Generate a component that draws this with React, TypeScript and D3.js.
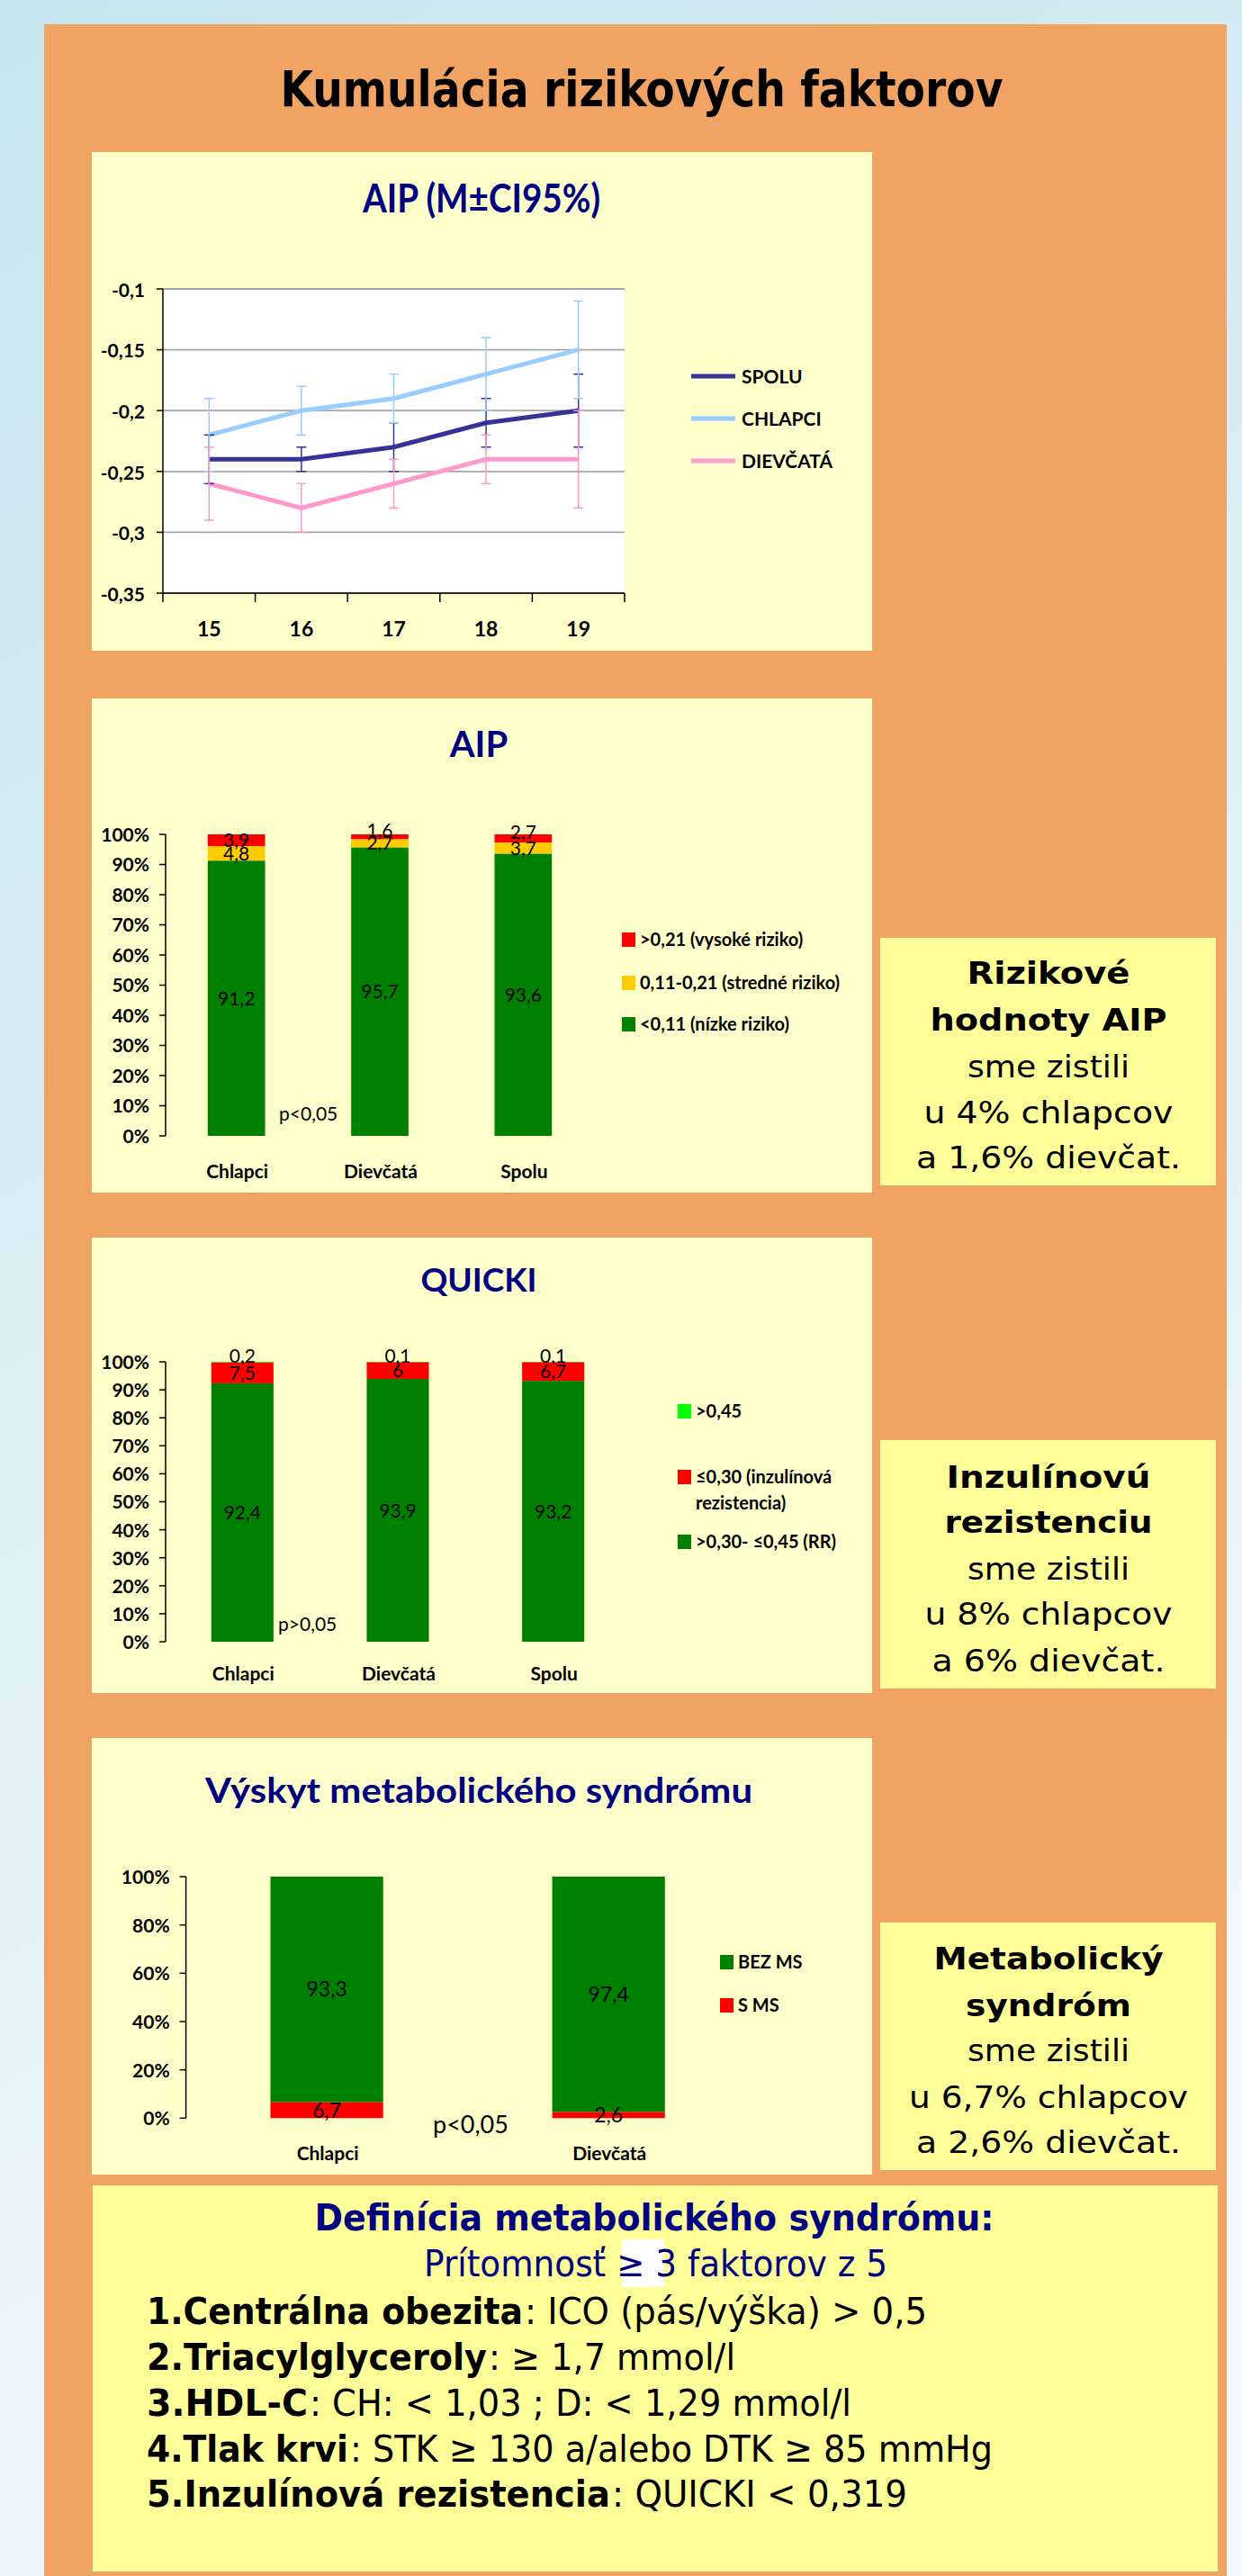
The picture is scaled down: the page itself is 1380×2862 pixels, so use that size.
import * as d3 from "d3";

// ---- data ----
const ages = ["15", "16", "17", "18", "19"];
const spoluMean = [-0.24, -0.24, -0.23, -0.21, -0.2];
const spoluLow = [-0.26, -0.25, -0.25, -0.23, -0.23];
const spoluHigh = [-0.22, -0.23, -0.21, -0.19, -0.17];
const chlapciMean = [-0.22, -0.2, -0.19, -0.17, -0.15];
const chlapciLow = [-0.25, -0.22, -0.21, -0.2, -0.19];
const chlapciHigh = [-0.19, -0.18, -0.17, -0.14, -0.11];
const dievcataMean = [-0.26, -0.28, -0.26, -0.24, -0.24];
const dievcataLow = [-0.29, -0.3, -0.28, -0.26, -0.28];
const dievcataHigh = [-0.23, -0.26, -0.24, -0.22, -0.2];
const aipTicks = [-0.1, -0.15, -0.2, -0.25, -0.3, -0.35];

const groups3 = ["Chlapci", "Dievčatá", "Spolu"];
const aipLowRisk = [91.2, 95.7, 93.6];
const aipMidRisk = [4.8, 2.7, 3.7];
const aipHighRisk = [3.9, 1.6, 2.7];
const aipLegend = [">0,21 (vysoké riziko)", "0,11-0,21 (stredné riziko)", "<0,11 (nízke riziko)"];

const quickiRR = [92.4, 93.9, 93.2];
const quickiIR = [7.5, 6, 6.7];
const quickiHigh = [0.2, 0.1, 0.1];

const groups2 = ["Chlapci", "Dievčatá"];
const msWith = [6.7, 2.6];
const msWithout = [93.3, 97.4];

const pct10 = [0, 0.1, 0.2, 0.3, 0.4, 0.5, 0.6, 0.7, 0.8, 0.9, 1];
const pct20 = [0, 0.2, 0.4, 0.6, 0.8, 1];

// ---- style ----
const CF = "Lato, 'Open Sans', sans-serif";
const TF = "'DejaVu Sans', Verdana, sans-serif";
const NAVY = "#000080";
const PANEL = "#ffffcc";
const BOX = "#ffff99";
const ORANGE = "#f0a363";
const GREEN = "#008000";
const RED = "#ff0000";
const YELLOW = "#ffcc00";
const LIME = "#00ff00";

const comma = (v: number) => String(v).replace(".", ",");

const T = ({ x, y, size, weight = "normal", fill = "#000", anchor = "start", family = CF, len, dy, children }: any) => (
  <text
    x={x}
    y={y}
    dy={dy}
    fontSize={size}
    fontWeight={weight}
    fill={fill}
    textAnchor={anchor}
    fontFamily={family}
    textLength={len}
    lengthAdjust={len ? "spacingAndGlyphs" : undefined}
  >
    {children}
  </text>
);

// ---- chart 1: AIP line chart ----
const LineChart = () => {
  const x = d3.scaleBand().domain(ages).range([181, 694]);
  const y = d3.scaleLinear().domain([-0.35, -0.1]).range([659, 321]);
  const cx = (i: number) => x(ages[i])! + x.bandwidth() / 2;
  const series = [
    { name: "SPOLU", color: "#333399", mean: spoluMean, low: spoluLow, high: spoluHigh },
    { name: "CHLAPCI", color: "#99ccff", mean: chlapciMean, low: chlapciLow, high: chlapciHigh },
    { name: "DIEVČATÁ", color: "#ff99cc", mean: dievcataMean, low: dievcataLow, high: dievcataHigh },
  ];
  const line = d3.line<number>().x((_, i) => cx(i)).y((d) => y(d));
  const bounds = [...ages.map((a) => x(a)!), 694];
  return (
    <g>
      <rect x={102} y={169} width={867} height={554} fill={PANEL} />
      <T x={535} y={236} size={43} weight="bold" fill={NAVY} anchor="middle" len={264}>AIP (M±CI95%)</T>
      <rect x={181} y={321} width={513} height={338} fill="#fff" />
      {aipTicks.map((t) => (
        <g key={t}>
          <line x1={181} x2={694} y1={y(t)} y2={y(t)} stroke="#a6a6a6" strokeWidth={1.8} />
          <line x1={174} x2={181} y1={y(t)} y2={y(t)} stroke="#000" strokeWidth={1.5} />
          <T x={161} y={y(t)} dy="0.42em" size={21} weight="bold" anchor="end">{comma(t)}</T>
        </g>
      ))}
      <line x1={181} x2={181} y1={321} y2={659} stroke="#000" strokeWidth={1.5} />
      <line x1={181} x2={694} y1={659} y2={659} stroke="#000" strokeWidth={1.5} />
      {bounds.map((b, i) => (
        <line key={i} x1={b} x2={b} y1={659} y2={669} stroke="#000" strokeWidth={1.5} />
      ))}
      {ages.map((a, i) => (
        <T key={a} x={cx(i)} y={707} size={23} weight="bold" anchor="middle">{a}</T>
      ))}
      {series.map((s) => (
        <path key={s.name} d={line(s.mean)!} fill="none" stroke={s.color} strokeWidth={5} />
      ))}
      {series.map((s) =>
        ages.map((a, i) => (
          <g key={s.name + a} stroke={s.color} strokeWidth={1.5}>
            <line x1={cx(i)} x2={cx(i)} y1={y(s.low[i])} y2={y(s.high[i])} />
            <line x1={cx(i) - 5.5} x2={cx(i) + 5.5} y1={y(s.low[i])} y2={y(s.low[i])} />
            <line x1={cx(i) - 5.5} x2={cx(i) + 5.5} y1={y(s.high[i])} y2={y(s.high[i])} />
          </g>
        ))
      )}
      {series.map((s, i) => (
        <g key={s.name}>
          <line x1={768} x2={817} y1={418 + i * 47} y2={418 + i * 47} stroke={s.color} strokeWidth={5} />
          <T x={824} y={418 + i * 47} dy="0.36em" size={21} weight="bold">{s.name}</T>
        </g>
      ))}
    </g>
  );
};

// ---- stacked 100% bar chart ----
const StackChart = ({ top, bottom, title, titleY, titleSize, titleLen, groups, keys, values, colors, xr, yr, ticks, axisX, labelSize, xLabelY, pText, pX, pY, pSize, legend }: any) => {
  const x = d3.scaleBand().domain(groups).range(xr).paddingInner(0.6).paddingOuter(0.3);
  const y = d3.scaleLinear().domain([0, 1]).range(yr);
  const rows = groups.map((g: string, i: number) => {
    const r: any = { group: g };
    keys.forEach((k: string, j: number) => (r[k] = values[j][i]));
    return r;
  });
  const stack = d3.stack<any>().keys(keys).offset(d3.stackOffsetExpand)(rows);
  const last = keys.length - 1;
  return (
    <g>
      <rect x={102} y={top} width={867} height={bottom - top} fill={PANEL} />
      <T x={532} y={titleY} size={titleSize} weight="bold" fill={NAVY} anchor="middle" len={titleLen}>{title}</T>
      {ticks.map((t: number) => (
        <g key={t}>
          <line x1={axisX - 7} x2={axisX} y1={y(t)} y2={y(t)} stroke="#000" strokeWidth={1.5} />
          <T x={axisX - 18} y={y(t)} dy="0.38em" size={21} weight="bold" anchor="end">{Math.round(t * 100) + "%"}</T>
        </g>
      ))}
      <line x1={axisX} x2={axisX} y1={yr[1]} y2={yr[0]} stroke="#000" strokeWidth={1.5} />
      {stack.map((layer: any, j: number) =>
        layer.map((d: any, i: number) => (
          <rect key={keys[j] + i} x={x(groups[i])} width={x.bandwidth()} y={y(d[1])} height={y(d[0]) - y(d[1])} fill={colors[j]} />
        ))
      )}
      {stack.map((layer: any, j: number) =>
        layer.map((d: any, i: number) => {
          const h = y(d[0]) - y(d[1]);
          // small top segments: the label sits a little higher, as in the original
          const shift = j === last && last > 1 && h < 12 ? -7 : 0;
          return (
            <T key={"l" + keys[j] + i} x={x(groups[i])! + x.bandwidth() / 2} y={y((d[0] + d[1]) / 2) + shift} dy="0.36em" size={labelSize} anchor="middle">
              {comma(values[j][i])}
            </T>
          );
        })
      )}
      {groups.map((g: string) => (
        <T key={g} x={x(g)! + x.bandwidth() / 2 + 1} y={xLabelY} size={21} weight="bold" anchor="middle">{g}</T>
      ))}
      <T x={pX} y={pY} size={pSize}>{pText}</T>
      {legend.map((l: any) => (
        <g key={l.label}>
          <rect x={l.x} y={l.y - 8} width={15} height={16} fill={l.color} />
          {l.label.split("\n").map((s: string, k: number) => (
            <T key={k} x={l.x + 20} y={l.y + k * 28.5} dy="0.36em" size={20} weight="bold">{s}</T>
          ))}
        </g>
      ))}
    </g>
  );
};

// ---- text boxes ----
const SideBox = ({ y0, y1, lines }: any) => (
  <g>
    <rect x={978} y={y0} width={373} height={y1 - y0} fill={BOX} />
    {lines.map((l: any) => (
      <T key={l.t} x={1165} y={l.y} size={33} family={TF} weight={l.b ? "bold" : "normal"} anchor="middle" len={l.w}>{l.t}</T>
    ))}
  </g>
);

const defItems = [
  { b: "1.Centrálna obezita", n: ": ICO (pás/výška) > 0,5", e: 581, end: 1030, y: 2582 },
  { b: "2.Triacylglyceroly", n: ": ≥ 1,7 mmol/l", e: 541, end: 817, y: 2633 },
  { b: "3.HDL-C", n: ": CH: < 1,03 ; D: < 1,29 mmol/l", e: 342, end: 946, y: 2684 },
  { b: "4.Tlak krvi", n: ": STK ≥ 130 a/alebo DTK ≥ 85 mmHg", e: 387, end: 1103, y: 2735 },
  { b: "5.Inzulínová rezistencia", n: ": QUICKI < 0,319", e: 678, end: 1008, y: 2785 },
];

export default function App() {
  return (
    <div style={{ position: "absolute", left: 0, top: 0 }}>
      <svg width={1380} height={2862} style={{ display: "block" }}>
        <defs>
          <linearGradient id="bg" x1="0" y1="0" x2="0.3" y2="1">
            <stop offset="0" stopColor="#c6e5ee" />
            <stop offset="1" stopColor="#f2f9fc" />
          </linearGradient>
        </defs>
        <rect width={1380} height={2862} fill="url(#bg)" />
        <rect x={49} y={27} width={1314} height={2835} fill={ORANGE} />
        <T x={713} y={118} size={55} weight="bold" family={TF} anchor="middle" len={803}>Kumulácia rizikových faktorov</T>

        <LineChart />

        <StackChart
          top={776} bottom={1325} title="AIP" titleY={841} titleSize={40}
          groups={groups3} keys={["low", "mid", "high"]} values={[aipLowRisk, aipMidRisk, aipHighRisk]}
          colors={[GREEN, YELLOW, RED]} xr={[183, 661]} yr={[1262, 927]} ticks={pct10} axisX={184}
          labelSize={21} xLabelY={1309} pText="p<0,05" pX={310} pY={1245} pSize={21}
          legend={[
            { label: aipLegend[0], color: RED, x: 691, y: 1044 },
            { label: aipLegend[1], color: YELLOW, x: 691, y: 1092 },
            { label: aipLegend[2], color: GREEN, x: 691, y: 1138 },
          ]}
        />

        <StackChart
          top={1375} bottom={1881} title="QUICKI" titleY={1435} titleSize={37}
          groups={groups3} keys={["rr", "ir", "high"]} values={[quickiRR, quickiIR, quickiHigh]}
          colors={[GREEN, RED, LIME]} xr={[183, 701]} yr={[1824, 1513]} ticks={pct10} axisX={184}
          labelSize={21} xLabelY={1867} pText="p>0,05" pX={309} pY={1812} pSize={21}
          legend={[
            { label: ">0,45", color: LIME, x: 753, y: 1568 },
            { label: "≤0,30 (inzulínová\nrezistencia)", color: RED, x: 753, y: 1641 },
            { label: ">0,30- ≤0,45 (RR)", color: GREEN, x: 753, y: 1713 },
          ]}
        />

        <StackChart
          top={1931} bottom={2416} title="Výskyt metabolického syndrómu" titleY={2003} titleSize={39} titleLen={608}
          groups={groups2} keys={["with", "without"]} values={[msWith, msWithout]}
          colors={[RED, GREEN]} xr={[206.6, 832.7]} yr={[2353.3, 2085]} ticks={pct20} axisX={206.6}
          labelSize={23} xLabelY={2400} pText="p<0,05" pX={481} pY={2370} pSize={27}
          legend={[
            { label: "BEZ MS", color: GREEN, x: 800, y: 2180 },
            { label: "S MS", color: RED, x: 800, y: 2228 },
          ]}
        />

        <SideBox
          y0={1042} y1={1317}
          lines={[
            { t: "Rizikové", b: true, y: 1093, w: 181 },
            { t: "hodnoty AIP", b: true, y: 1145, w: 263 },
            { t: "sme zistili", y: 1197, w: 180 },
            { t: "u 4% chlapcov", y: 1248, w: 277 },
            { t: "a 1,6% dievčat.", y: 1298, w: 294 },
          ]}
        />
        <SideBox
          y0={1600} y1={1876}
          lines={[
            { t: "Inzulínovú", b: true, y: 1653, w: 227 },
            { t: "rezistenciu", b: true, y: 1703, w: 231 },
            { t: "sme zistili", y: 1755, w: 180 },
            { t: "u 8% chlapcov", y: 1805, w: 275 },
            { t: "a 6% dievčat.", y: 1857, w: 259 },
          ]}
        />
        <SideBox
          y0={2136} y1={2411}
          lines={[
            { t: "Metabolický", b: true, y: 2188, w: 255 },
            { t: "syndróm", b: true, y: 2240, w: 184 },
            { t: "sme zistili", y: 2290, w: 180 },
            { t: "u 6,7% chlapcov", y: 2342, w: 310 },
            { t: "a 2,6% dievčat.", y: 2392, w: 294 },
          ]}
        />

        <rect x={103} y={2428} width={1250} height={429} fill={BOX} />
        <T x={727} y={2478} size={40} weight="bold" fill={NAVY} family={TF} anchor="middle" len={755}>Definícia metabolického syndrómu:</T>
        <rect x={691} y={2488} width={47} height={53} fill="#fff" />
        <T x={471} y={2529} size={40} fill={NAVY} family={TF} len={515}>Prítomnosť ≥ 3 faktorov z 5</T>
        {defItems.map((d) => (
          <g key={d.b}>
            <T x={163} y={d.y} size={41} weight="bold" family={TF} len={d.e - 163}>{d.b}</T>
            <T x={d.e + 2} y={d.y} size={41} family={TF} len={d.end - d.e - 2}>{d.n}</T>
          </g>
        ))}
      </svg>
    </div>
  );
}
